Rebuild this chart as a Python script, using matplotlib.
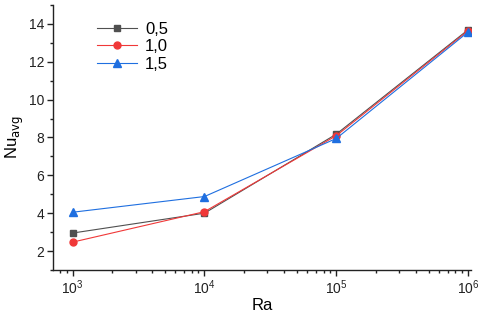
import matplotlib
matplotlib.use("Agg")
import matplotlib.pyplot as plt
from matplotlib.ticker import LogLocator, MultipleLocator, NullFormatter

plt.rcParams['font.family'] = ['Liberation Sans', 'DejaVu Sans']

ra = [1e3, 1e4, 1e5, 1e6]
nu_05 = [2.95, 4.0, 8.18, 13.7]
nu_10 = [2.47, 4.08, 8.1, 13.65]
nu_15 = [4.05, 4.88, 7.95, 13.58]

fig = plt.figure(figsize=(4.8, 3.15), dpi=100)
ax = fig.add_axes([0.110, 0.143, 0.871, 0.841])

ax.plot(ra, nu_05, color='#505050', marker='s', ms=5, lw=0.8, label='0,5')
ax.plot(ra, nu_10, color='#f03838', marker='o', ms=5, lw=0.8, label='1,0')
ax.plot(ra, nu_15, color='#1f6fe0', marker='^', ms=6, lw=0.8, label='1,5')

ax.set_xscale('log')
ax.set_xlim(10**2.85, 10**6.02)
ax.set_ylim(1, 15)
ax.yaxis.set_major_locator(MultipleLocator(2))
ax.yaxis.set_minor_locator(MultipleLocator(1))
ax.xaxis.set_major_locator(LogLocator(base=10))
ax.xaxis.set_minor_locator(LogLocator(base=10, subs=range(2, 10)))
ax.xaxis.set_minor_formatter(NullFormatter())

for s in ['top', 'right']:
    ax.spines[s].set_visible(False)
for s in ['left', 'bottom']:
    ax.spines[s].set_linewidth(1.0)
    ax.spines[s].set_color('#222222')

ax.tick_params(which='major', direction='out', length=4, width=1, labelsize=10,
               colors='#222222', pad=2)
ax.tick_params(which='minor', direction='out', length=2.5, width=1, colors='#222222')

ax.set_xlabel('Ra', fontsize=12, labelpad=1)
ax.set_ylabel(r'Nu$_{\mathrm{avg}}$', fontsize=12, labelpad=2)

ax.legend(loc='upper left', bbox_to_anchor=(0.065, 1.0), frameon=False, fontsize=12,
          handlelength=2.4, handletextpad=0.5, labelspacing=0.15, borderaxespad=0.6)

fig.savefig('out.png', dpi=100)
